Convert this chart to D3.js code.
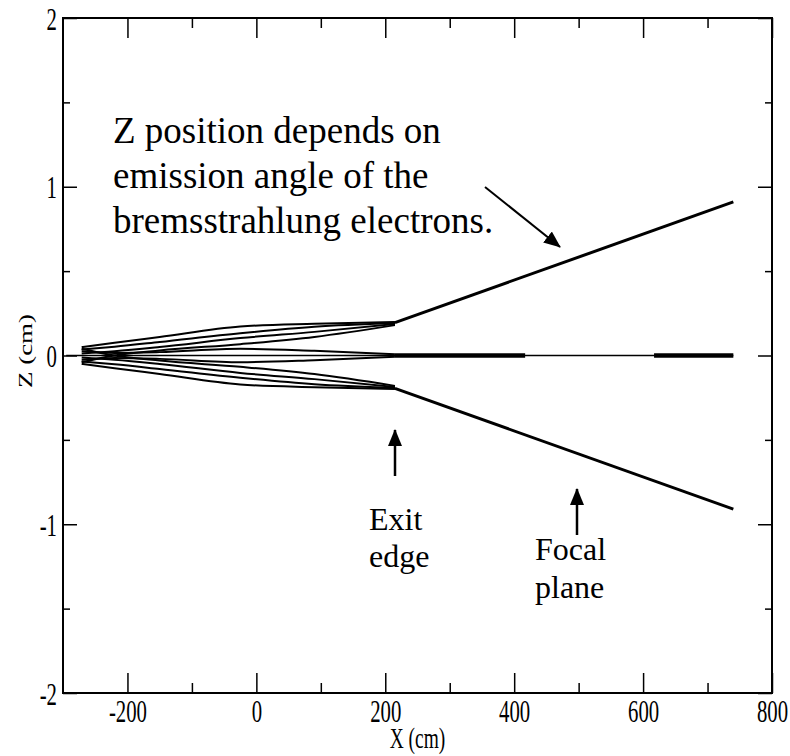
<!DOCTYPE html>
<html>
<head>
<meta charset="utf-8">
<script src="https://cdn.jsdelivr.net/npm/d3@7"></script>
<style>
  body { margin: 0; background: #fff; }
  svg text { font-family: "Liberation Serif", "Times New Roman", Times, serif; }
</style>
</head>
<body>
<div class="wrapper"></div>
<script>
// beam trajectories, x in cm along the beam, z in cm
const fanX = [-271, -220, -150, -25, 90, 215]
const upperZ1 = [0.05, 0.075, 0.11, 0.172, 0.188, 0.198]
const upperZ2 = [0.035, 0.052, 0.08, 0.132, 0.17, 0.192]
const upperZ3 = [0.012, 0.025, 0.05, 0.103, 0.14, 0.186]
const upperZ4 = [-0.04, 0.0, 0.03, 0.067, 0.11, 0.18]
const upperZ5 = [0.025, 0.015, 0.02, 0.04, 0.028, 0.008]
const lowerZ1 = [-0.05, -0.075, -0.11, -0.172, -0.188, -0.198]
const lowerZ2 = [-0.035, -0.052, -0.08, -0.132, -0.17, -0.192]
const lowerZ3 = [-0.012, -0.025, -0.05, -0.103, -0.14, -0.186]
const lowerZ4 = [0.04, 0.0, -0.03, -0.067, -0.11, -0.18]
const lowerZ5 = [-0.025, -0.015, -0.02, -0.04, -0.028, -0.008]

// after the exit edge
const slopeX = [215, 740]
const slopeUpperZ = [0.195, 0.91]
const slopeLowerZ = [-0.195, -0.91]
const centerX = [-295, 740]
const centerThick = [[215, 417], [617, 740]]

// ticks
const xMajor = [-200, 0, 200, 400, 600, 800]
const xMinor = [-100, 100, 300, 500, 700]
const zMajor = [-2, -1, 0, 1, 2]
const zMinor = [-1.5, -0.5, 0.5, 1.5]

const serif = '"Liberation Serif", "Times New Roman", Times, serif'

const width = 790,
  height = 756,
  plot = { left: 63, right: 772, top: 18, bottom: 693 }

const x = d3.scaleLinear().domain([-300, 800]).range([plot.left, plot.right])
const z = d3.scaleLinear().domain([-2, 2]).range([plot.bottom, plot.top])

const svg = d3.select('.wrapper')
  .append('svg')
  .attr('width', width)
  .attr('height', height)
  .style('display', 'block')

const defs = svg.append('defs')
defs.append('marker')
  .attr('id', 'head')
  .attr('markerUnits', 'userSpaceOnUse')
  .attr('markerWidth', 17)
  .attr('markerHeight', 15)
  .attr('refX', 16)
  .attr('refY', 7)
  .attr('orient', 'auto')
  .append('path')
  .attr('d', 'M0,0 L17,7 L0,14 Z')
  .attr('fill', '#000')

const line = d3.line()
  .x(d => x(d[0]))
  .y(d => z(d[1]))
  .curve(d3.curveMonotoneX)

// fan of rays before the exit edge
const rays = [upperZ1, upperZ2, upperZ3, upperZ4, upperZ5,
  lowerZ1, lowerZ2, lowerZ3, lowerZ4, lowerZ5]

svg.append('path')
  .datum(d3.zip(centerX, [0, 0]))
  .attr('d', line)
  .attr('fill', 'none')
  .attr('stroke', '#000')
  .attr('stroke-width', 1.5)

svg.selectAll('.ray')
  .data(rays)
  .enter().append('path')
  .attr('class', 'ray')
  .attr('d', zs => line(d3.zip(fanX, zs)))
  .attr('fill', 'none')
  .attr('stroke', '#000')
  .attr('stroke-width', 2)

svg.selectAll('.slope')
  .data([slopeUpperZ, slopeLowerZ])
  .enter().append('path')
  .attr('class', 'slope')
  .attr('d', zs => line(d3.zip(slopeX, zs)))
  .attr('fill', 'none')
  .attr('stroke', '#000')
  .attr('stroke-width', 3)

svg.selectAll('.thick')
  .data(centerThick)
  .enter().append('path')
  .attr('class', 'thick')
  .attr('d', xs => line(xs.map(v => [v, 0])))
  .attr('stroke', '#000')
  .attr('stroke-width', 4.5)

// axes, ticks pointing inward on all four sides
function styleAxis(g) {
  g.attr('font-family', serif)
  g.select('.domain').remove()
  g.selectAll('line').attr('stroke', '#000').attr('stroke-width', 1.5)
}

svg.append('g')
  .attr('transform', `translate(0,${plot.bottom})`)
  .call(d3.axisBottom(x).tickValues(xMajor).tickSize(-20).tickFormat(d => String(d)))
  .call(styleAxis)
  .call(g => g.selectAll('text')
    .attr('y', 0).attr('dy', 0)
    .attr('transform', 'translate(0,29) scale(0.67,1)')
    .attr('font-size', 31)
    .attr('fill', '#000'))

svg.append('g')
  .attr('transform', `translate(0,${plot.bottom})`)
  .call(d3.axisBottom(x).tickValues(xMinor).tickSize(-10).tickFormat(''))
  .call(styleAxis)

svg.append('g')
  .attr('transform', `translate(0,${plot.top})`)
  .call(d3.axisTop(x).tickValues(xMajor).tickSize(-20).tickFormat(''))
  .call(styleAxis)

svg.append('g')
  .attr('transform', `translate(0,${plot.top})`)
  .call(d3.axisTop(x).tickValues(xMinor).tickSize(-10).tickFormat(''))
  .call(styleAxis)

svg.append('g')
  .attr('transform', `translate(${plot.left},0)`)
  .call(d3.axisLeft(z).tickValues(zMajor).tickSize(-14).tickFormat(d => String(d)))
  .call(styleAxis)
  .call(g => g.selectAll('text')
    .attr('x', 0).attr('dy', 0)
    .attr('transform', 'translate(-6,11) scale(0.67,1)')
    .attr('font-size', 31)
    .attr('fill', '#000'))

svg.append('g')
  .attr('transform', `translate(${plot.left},0)`)
  .call(d3.axisLeft(z).tickValues(zMinor).tickSize(-7).tickFormat(''))
  .call(styleAxis)

svg.append('g')
  .attr('transform', `translate(${plot.right},0)`)
  .call(d3.axisRight(z).tickValues(zMajor).tickSize(-14).tickFormat(''))
  .call(styleAxis)

svg.append('g')
  .attr('transform', `translate(${plot.right},0)`)
  .call(d3.axisRight(z).tickValues(zMinor).tickSize(-7).tickFormat(''))
  .call(styleAxis)

svg.append('rect')
  .attr('x', plot.left)
  .attr('y', plot.top)
  .attr('width', plot.right - plot.left)
  .attr('height', plot.bottom - plot.top)
  .attr('fill', 'none')
  .attr('stroke', '#000')
  .attr('stroke-width', 2)

// axis titles
svg.append('text')
  .attr('transform', `translate(${(plot.left + plot.right) / 2},748) scale(0.67,1)`)
  .attr('text-anchor', 'middle')
  .attr('font-family', serif)
  .attr('font-size', 29)
  .text('X (cm)')

svg.append('text')
  .attr('transform', 'translate(32,351) rotate(-90) scale(1,0.67)')
  .attr('text-anchor', 'middle')
  .attr('font-family', serif)
  .attr('font-size', 27)
  .text('Z (cm)')

// annotations
const note = svg.append('text')
  .attr('font-family', serif)
  .attr('font-size', 37)
  .attr('fill', '#000')
note.selectAll('tspan')
  .data(['Z position depends on', 'emission angle of the', 'bremsstrahlung electrons.'])
  .enter().append('tspan')
  .attr('x', 113)
  .attr('y', (d, i) => 143 + i * 45)
  .text(d => d)

svg.append('line')
  .attr('x1', 485).attr('y1', 187)
  .attr('x2', 560).attr('y2', 247)
  .attr('stroke', '#000')
  .attr('stroke-width', 2)
  .attr('marker-end', 'url(#head)')

svg.append('line')
  .attr('x1', 395).attr('y1', 476)
  .attr('x2', 395).attr('y2', 430)
  .attr('stroke', '#000')
  .attr('stroke-width', 2.5)
  .attr('marker-end', 'url(#head)')

svg.append('line')
  .attr('x1', 577).attr('y1', 535)
  .attr('x2', 577).attr('y2', 489)
  .attr('stroke', '#000')
  .attr('stroke-width', 2.5)
  .attr('marker-end', 'url(#head)')

const small = [
  { t: 'Exit', x: 369, y: 530 },
  { t: 'edge', x: 369, y: 567 },
  { t: 'Focal', x: 535, y: 560 },
  { t: 'plane', x: 535, y: 598 },
]
svg.selectAll('.lbl')
  .data(small)
  .enter().append('text')
  .attr('class', 'lbl')
  .attr('x', d => d.x)
  .attr('y', d => d.y)
  .attr('font-family', serif)
  .attr('font-size', 32)
  .text(d => d.t)
</script>
</body>
</html>
